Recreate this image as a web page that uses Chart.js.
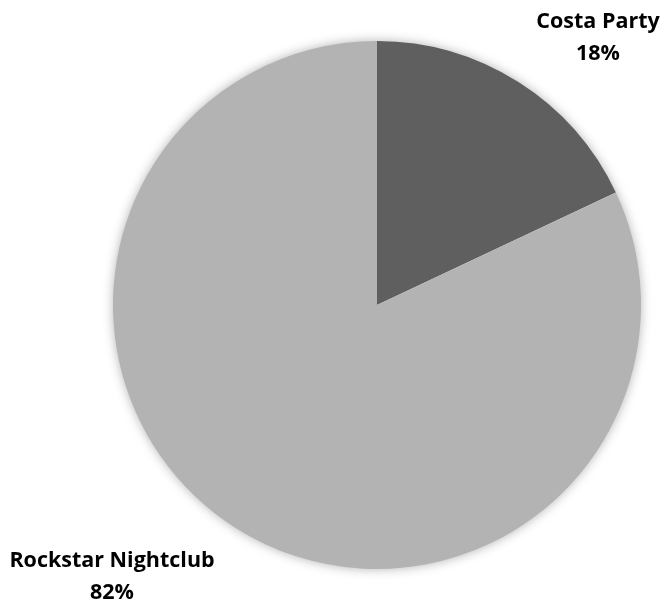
<!DOCTYPE html>
<html>
<head>
<meta charset="utf-8">
<script src="https://cdn.jsdelivr.net/npm/chart.js@4"></script>
<style>
  html, body { margin: 0; padding: 0; background: #ffffff; }
  #wrap { width: 665px; height: 601px; }
</style>
</head>
<body>
<div id="wrap"><canvas id="pieChart"></canvas></div>
<script>
var venues = ["Costa Party", "Rockstar Nightclub"];
var shares = [18, 82];
var sliceColors = ['#5f5f5f', '#b3b3b3'];

// where each venue label sits, as offsets from the pie centre
var labelOffsets = [[221, -267], [-265, 272]];

// soft halo under the whole pie
var pieShadow = {
    id: 'pieShadow',
    beforeDatasetsDraw: function (chart) {
        var arc = chart.getDatasetMeta(0).data[0];
        var ctx = chart.ctx;
        ctx.save();
        ctx.shadowColor = 'rgba(0,0,0,0.35)';
        ctx.shadowBlur = 12;
        ctx.fillStyle = '#ffffff';
        ctx.beginPath();
        ctx.arc(arc.x, arc.y, arc.outerRadius - 1, 0, Math.PI * 2);
        ctx.fill();
        ctx.restore();
    }
};

var venueLabels = {
    id: 'venueLabels',
    afterDatasetsDraw: function (chart) {
        var ctx = chart.ctx;
        var meta = chart.getDatasetMeta(0);
        var total = shares.reduce(function (a, b) { return a + b; }, 0);
        ctx.save();
        ctx.fillStyle = '#000000';
        ctx.font = 'bold 21.5px "Open Sans"';
        ctx.textAlign = 'center';
        ctx.textBaseline = 'middle';
        meta.data.forEach(function (arc, i) {
            var x = arc.x + labelOffsets[i][0];
            var y = arc.y + labelOffsets[i][1];
            var pct = Math.round(shares[i] / total * 100) + '%';
            ctx.fillText(venues[i], x, y - 16);
            ctx.fillText(pct, x, y + 16);
        });
        ctx.restore();
    }
};

var ctx = document.getElementById('pieChart').getContext('2d');
var chart = new Chart(ctx, {
    type: 'pie',
    data: {
        labels: venues,
        datasets: [{
            data: shares,
            backgroundColor: sliceColors,
            borderWidth: 0
        }]
    },
    options: {
        responsive: true,
        maintainAspectRatio: false,
        animation: false,
        layout: { padding: { left: 113, right: 24, top: 41, bottom: 32 } },
        plugins: {
            legend: { display: false },
            tooltip: { enabled: false }
        }
    },
    plugins: [pieShadow, venueLabels]
});
</script>
</body>
</html>
